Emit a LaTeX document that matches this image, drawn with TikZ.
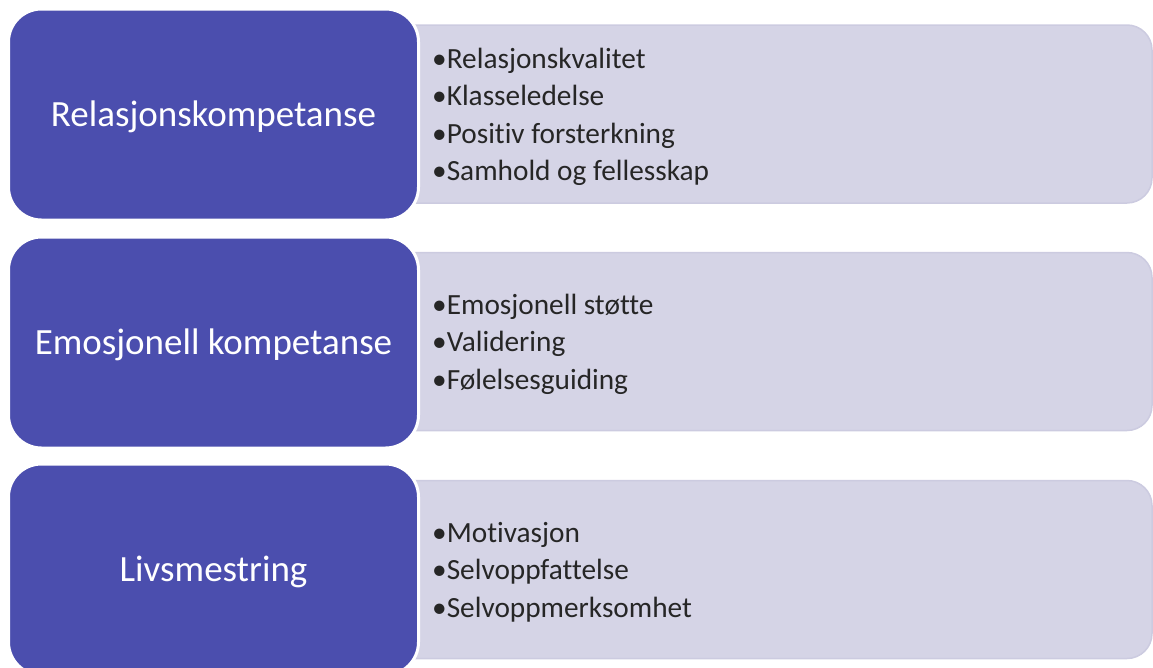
\documentclass[tikz,border=0pt]{standalone}
\usepackage{fontspec}
\setmainfont{Carlito}[Ligatures={NoCommon,NoContextual}]
\definecolor{leftblue}{RGB}{75,78,174}
\definecolor{rightfill}{RGB}{213,212,230}
\definecolor{rightline}{RGB}{204,203,224}
\definecolor{itemtext}{RGB}{38,38,38}
\tikzset{
  headbox/.style={draw=white, line width=3pt, fill=leftblue, rounded corners=33pt,
    minimum width=410pt, minimum height=211pt, inner sep=0pt,
    text=white, font=\fontsize{37}{44}\selectfont},
  headtext/.style={inner sep=0pt, text=white, font=\fontsize{37}{44}\selectfont},
  listbox/.style={draw=rightline, line width=1.5pt, fill=rightfill, rounded corners=25pt,
    minimum width=772pt, minimum height=178pt, inner sep=0pt},
  listtext/.style={anchor=west, align=left, inner sep=0pt, text=itemtext,
    font=\fontsize{29.3}{37.4}\selectfont}
}
\begin{document}
\begin{tikzpicture}[x=1pt,y=-1pt]
\useasboundingbox (0,0) rectangle (1153,667);
\clip (0,0) rectangle (1153,667);
% row 1
\node[listbox] (r1) at (766,114) {};
\node[headbox] (l1) at (213.5,114.5) {};
\node[headtext] (h1) at (213.5,117) {Relasjonskompetanse};
\node[listtext] (t1) at (432,117) {•Relasjonskvalitet\\•Klasseledelse\\•Positiv forsterkning\\•Samhold og fellesskap};
% row 2
\node[listbox] (r2) at (766,341.5) {};
\node[headbox] (l2) at (213.5,342.5) {};
\node[headtext] (h2) at (213.5,345) {Emosjonell kompetanse};
\node[listtext] (t2) at (432,344) {•Emosjonell støtte\\•Validering\\•Følelsesguiding};
% row 3
\node[listbox] (r3) at (766,569.5) {};
\node[headbox] (l3) at (213.5,569.5) {};
\node[headtext] (h3) at (213.5,572) {Livsmestring};
\node[listtext] (t3) at (432,572) {•Motivasjon\\•Selvoppfattelse\\•Selvoppmerksomhet};
\end{tikzpicture}
\end{document}
